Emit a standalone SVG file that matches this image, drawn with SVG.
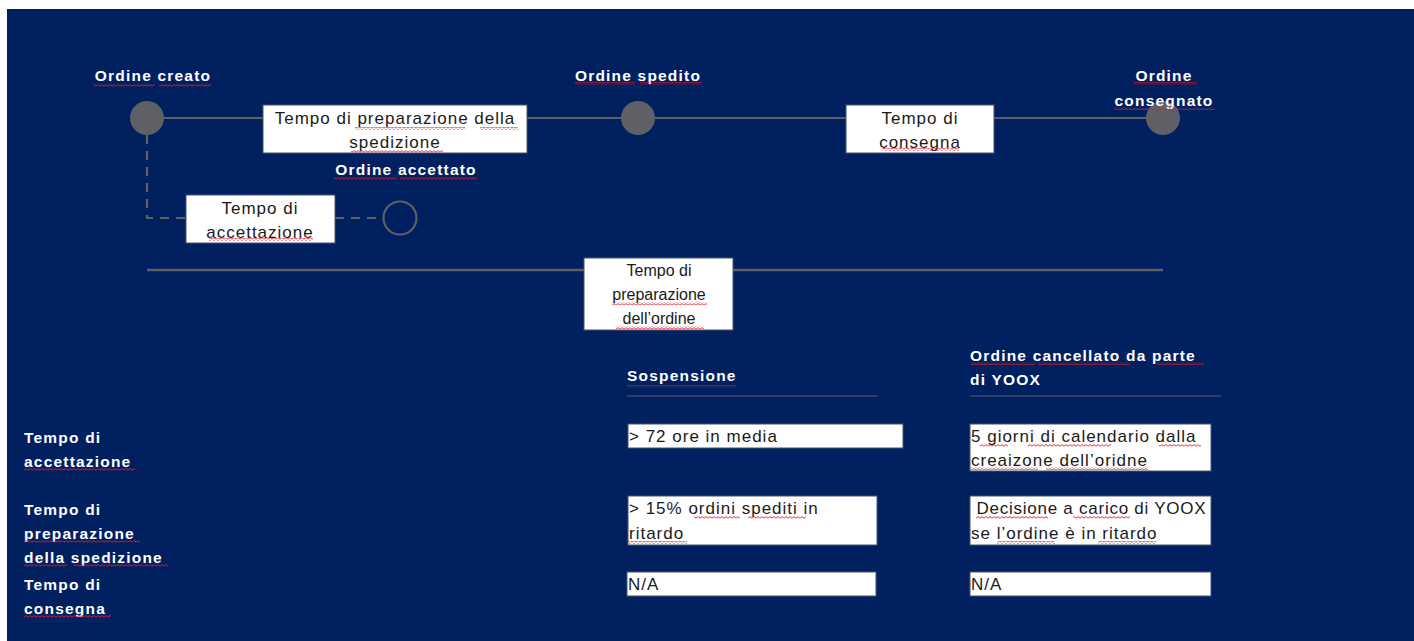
<svg xmlns="http://www.w3.org/2000/svg" width="1414" height="641" viewBox="0 0 1414 641">
<defs>
<pattern id="sq" x="0" y="0" width="4" height="3" patternUnits="userSpaceOnUse">
  <path d="M0,2.2 L2,0.6 L4,2.2" fill="none" stroke="#e0202a" stroke-width="0.9"/>
</pattern>
</defs>
<style>
.lbl{font-family:"Liberation Sans",Arial,sans-serif;font-weight:bold;font-size:15.5px;letter-spacing:1.2px;fill:#ffffff}
.box{fill:#ffffff;stroke:#44546a;stroke-width:1}
.bt{font-family:"Liberation Sans",Arial,sans-serif;font-size:17px;letter-spacing:1px;fill:#1a1a1a}
.bt2{font-family:"Liberation Sans",Arial,sans-serif;font-size:16px;fill:#1a1a1a}
.ln{stroke:#5f5f66;stroke-width:2.2;fill:none}
.dash{stroke:#5f5f66;stroke-width:2.2;fill:none;stroke-dasharray:9 7}
.dot{fill:#5f5f66}
.sep{stroke:#5a5f6e;stroke-width:1.2}
.sq{fill:url(#sq)}
</style>
<rect x="0" y="0" width="1414" height="641" fill="#ffffff"/>
<rect x="7" y="9" width="1407" height="632" fill="#00205f"/>

<g id="connectors">
  <line class="ln" x1="147" y1="118" x2="263" y2="118"/>
  <line class="ln" x1="527" y1="118" x2="846" y2="118"/>
  <line class="ln" x1="994" y1="118" x2="1163" y2="118"/>
  <path class="dash" d="M147,135 V218 H186"/>
  <line class="dash" x1="335" y1="218" x2="383" y2="218"/>
  <line class="ln" x1="147" y1="270" x2="1163" y2="270" style="stroke-width:2.6"/>
</g>

<g id="ordine-creato">
  <circle class="dot" cx="147" cy="118" r="17"/>
  <text class="lbl" x="153" y="81" text-anchor="middle">Ordine creato</text>
  <rect class="sq" x="94" y="84" width="61" height="3"/>
  <rect class="sq" x="159" y="84" width="52" height="3"/>
</g>
<g id="ordine-spedito">
  <circle class="dot" cx="638" cy="118" r="17"/>
  <text class="lbl" x="638" y="81" text-anchor="middle">Ordine spedito</text>
  <rect class="sq" x="575" y="82" width="60" height="3"/>
  <rect class="sq" x="640" y="82" width="62" height="3"/>
</g>
<g id="ordine-consegnato">
  <circle class="dot" cx="1163" cy="118" r="17"/>
  <text class="lbl" x="1164" y="81" text-anchor="middle">Ordine</text>
  <text class="lbl" x="1164" y="106" text-anchor="middle">consegnato</text>
  <rect class="sq" x="1134" y="82" width="63" height="3"/>
  <rect class="sq" x="1114" y="107" width="101" height="3"/>
</g>
<g id="ordine-accettato">
  <circle cx="400" cy="218" r="16.5" fill="none" stroke="#5f5f66" stroke-width="2.2"/>
  <text class="lbl" x="406" y="175" text-anchor="middle">Ordine accettato</text>
  <rect class="sq" x="334" y="177" width="63" height="3"/>
  <rect class="sq" x="400" y="177" width="77" height="3"/>
</g>

<g id="tempo-preparazione-spedizione">
  <rect class="box" x="263" y="105" width="264" height="48"/>
  <text class="bt" x="395" y="124" text-anchor="middle">Tempo di preparazione della</text>
  <text class="bt" x="395" y="148" text-anchor="middle">spedizione</text>
  <rect class="sq" x="355" y="127" width="110" height="3"/>
  <rect class="sq" x="480" y="127" width="38" height="3"/>
  <rect class="sq" x="351" y="150" width="92" height="3"/>
</g>
<g id="tempo-consegna">
  <rect class="box" x="846" y="105" width="148" height="48"/>
  <text class="bt" x="920" y="124" text-anchor="middle">Tempo di</text>
  <text class="bt" x="920" y="148" text-anchor="middle">consegna</text>
  <rect class="sq" x="882" y="148" width="77" height="3"/>
</g>
<g id="tempo-accettazione">
  <rect class="box" x="186" y="195" width="149" height="48"/>
  <text class="bt" x="260" y="214" text-anchor="middle">Tempo di</text>
  <text class="bt" x="260" y="238" text-anchor="middle">accettazione</text>
  <rect class="sq" x="209" y="238" width="104" height="3"/>
</g>
<g id="tempo-preparazione-ordine">
  <rect class="box" x="584" y="258" width="149" height="72"/>
  <text class="bt2" x="659" y="276" text-anchor="middle">Tempo di</text>
  <text class="bt2" x="659" y="300" text-anchor="middle">preparazione</text>
  <text class="bt2" x="659" y="324" text-anchor="middle">dell’ordine</text>
  <rect class="sq" x="612" y="302" width="95" height="3"/>
  <rect class="sq" x="616" y="326" width="88" height="3"/>
</g>

<g id="table">
  <text class="lbl" x="627" y="381">Sospensione</text>
  <rect class="sq" x="627" y="385" width="109" height="3"/>
  <line class="sep" x1="627" y1="396" x2="878" y2="396"/>
  <text class="lbl" x="970" y="361">Ordine cancellato da parte</text>
  <text class="lbl" x="970" y="385">di YOOX</text>
  <rect class="sq" x="971" y="362" width="64" height="3"/>
  <rect class="sq" x="1038" y="362" width="92" height="3"/>
  <rect class="sq" x="1157" y="362" width="47" height="3"/>
  <line class="sep" x1="970" y1="396" x2="1221" y2="396"/>

  <text class="lbl" x="24" y="443">Tempo di</text>
  <text class="lbl" x="24" y="467">accettazione</text>
  <rect class="sq" x="24" y="468" width="111" height="3"/>
  <text class="lbl" x="24" y="515">Tempo di</text>
  <text class="lbl" x="24" y="539">preparazione</text>
  <rect class="sq" x="24" y="540" width="116" height="3"/>
  <text class="lbl" x="24" y="563">della spedizione</text>
  <rect class="sq" x="24" y="564" width="43" height="3"/>
  <rect class="sq" x="73" y="564" width="95" height="3"/>
  <text class="lbl" x="24" y="590">Tempo di</text>
  <text class="lbl" x="24" y="614">consegna</text>
  <rect class="sq" x="24" y="615" width="87" height="3"/>

  <rect class="box" x="628" y="424" width="275" height="24"/>
  <text class="bt" x="629" y="442">&gt; 72 ore in media</text>

  <rect class="box" x="970" y="424" width="241" height="47"/>
  <text class="bt" x="971" y="442">5 giorni di calendario dalla</text>
  <text class="bt" x="971" y="466">creaizone dell’oridne</text>
  <rect class="sq" x="980" y="444" width="28" height="3"/>
  <rect class="sq" x="1028" y="444" width="83" height="3"/>
  <rect class="sq" x="1159" y="444" width="42" height="3"/>
  <rect class="sq" x="971" y="467" width="67" height="3"/>
  <rect class="sq" x="1046" y="467" width="102" height="3"/>

  <rect class="box" x="628" y="496" width="249" height="49"/>
  <text class="bt" x="629" y="514">&gt; 15% ordini spediti in</text>
  <text class="bt" x="629" y="539">ritardo</text>
  <rect class="sq" x="694" y="516" width="46" height="3"/>
  <rect class="sq" x="748" y="516" width="58" height="3"/>
  <rect class="sq" x="628" y="541" width="59" height="3"/>

  <rect class="box" x="970" y="496" width="241" height="49"/>
  <text class="bt" x="971" y="514" style="letter-spacing:0.75px" xml:space="preserve"> Decisione a carico di YOOX</text>
  <text class="bt" x="971" y="539">se l’ordine è in ritardo</text>
  <rect class="sq" x="976" y="516" width="72" height="3"/>
  <rect class="sq" x="1073" y="516" width="57" height="3"/>
  <rect class="sq" x="997" y="541" width="58" height="3"/>
  <rect class="sq" x="1098" y="541" width="58" height="3"/>

  <rect class="box" x="627" y="572" width="249" height="24"/>
  <text class="bt" x="628" y="590">N/A</text>
  <rect class="box" x="970" y="572" width="241" height="24"/>
  <text class="bt" x="971" y="590">N/A</text>
</g>
</svg>
